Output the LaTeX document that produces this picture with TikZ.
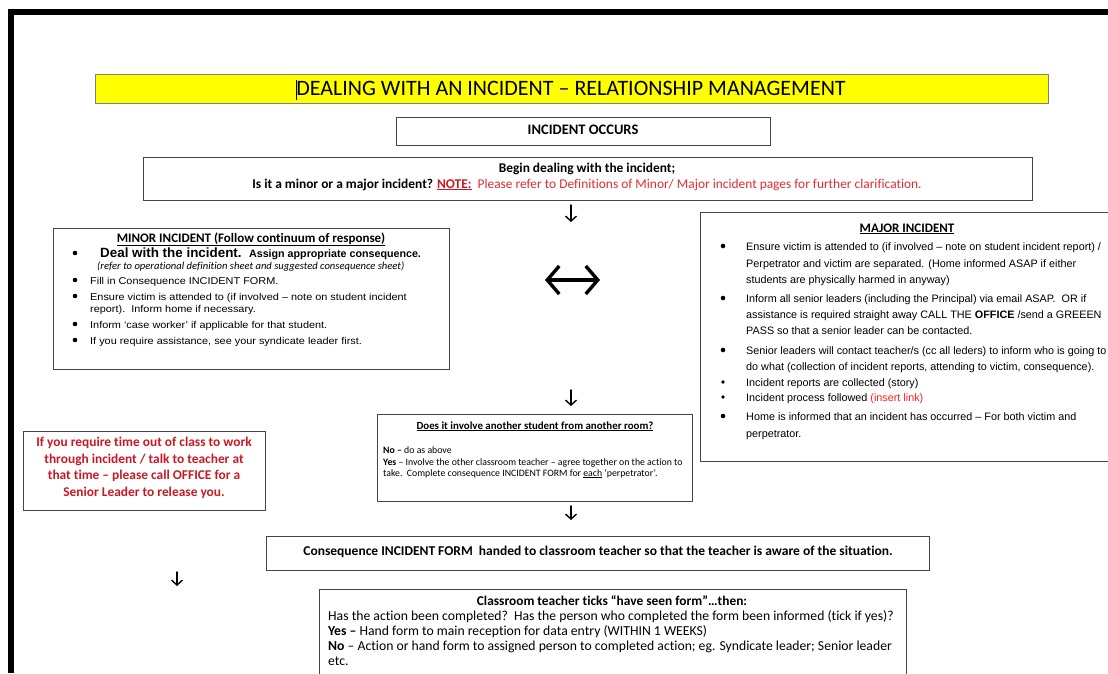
\documentclass[tikz,border=0pt]{standalone}
\usepackage{fontspec}
\setmainfont{Carlito}[Ligatures=NoCommon]
\newfontfamily\arial[FakeStretch=1.1]{Liberation Sans}
\newfontfamily\arialn{Liberation Sans}
\usetikzlibrary{arrows.meta}
\definecolor{boxgray}{RGB}{70,70,70}
\definecolor{ttl}{RGB}{255,255,0}
\definecolor{dred}{RGB}{200,25,35}
\definecolor{lred}{RGB}{220,45,50}
\definecolor{bred}{RGB}{255,30,30}
\tikzset{
  box/.style={draw=boxgray, line width=0.9pt, inner sep=0pt, anchor=north west},
  ln/.style={inner sep=0pt, anchor=base west},
  lnc/.style={inner sep=0pt, anchor=base},
  bul/.style={circle, fill=black, inner sep=0pt, minimum size=4.6pt},
  sbul/.style={circle, fill=black, inner sep=0pt, minimum size=3.6pt},
  darr/.style={-{Straight Barb[length=5pt,width=11pt,line width=1.4pt]}, line width=1.4pt, line cap=round},
}
\newcommand{\fs}[1]{\fontsize{#1}{#1}\selectfont}
\begin{document}
\begin{tikzpicture}[x=1pt,y=-1pt]
\useasboundingbox (0,0) rectangle (1108,673);
\begin{scope}
\clip (0,0) rectangle (1108,673);
% frame
\fill[black] (8,9) rectangle (1108,15);
\fill[black] (8,9) rectangle (14,673);

% title
\node[box, draw=gray, fill=ttl, minimum width=953pt, minimum height=29pt] (title) at (95,74) {};
\node[lnc, font=\fs{22}] (titletxt) at (571,95.5) {DEALING WITH AN INCIDENT – RELATIONSHIP MANAGEMENT};
\draw[black, line width=0.8pt] (titletxt.base west) ++(0,4) -- ++(0,-20);

% incident occurs
\node[box, minimum width=374pt, minimum height=28pt] (occ) at (396,117) {};
\node[lnc, font=\bfseries\fs{14.5}] (occtxt) at (583,134) {INCIDENT OCCURS};

% begin
\node[box, minimum width=889pt, minimum height=43pt] (begin) at (143,157) {};
\node[lnc, font=\bfseries\fs{13.4}] (b1) at (587,172) {Begin dealing with the incident;};
\node[lnc, font=\fs{13.4}] (b2) at (587,188) {\textbf{Is it a minor or a major incident?} \textcolor{dred}{\textbf{\underline{NOTE:}}\ \ }\textcolor{lred}{Please refer to Definitions of Minor/ Major incident pages for further clarification.}};

% arrows
\coordinate (a1s) at (571,205); \coordinate (a1e) at (571,222);
\draw[darr] (a1s) -- (a1e);
\coordinate (dl) at (545,280); \coordinate (dr) at (600,280);
\draw[line width=3.4pt, line cap=round, {Straight Barb[length=12pt,width=28pt,line width=3.4pt]}-{Straight Barb[length=12pt,width=28pt,line width=3.4pt]}] (dl) -- (dr);
\coordinate (a2s) at (571,390); \coordinate (a2e) at (571,406);
\draw[darr] (a2s) -- (a2e);
\coordinate (a3s) at (571,506); \coordinate (a3e) at (571,520);
\draw[darr] (a3s) -- (a3e);
\coordinate (a4s) at (177,572); \coordinate (a4e) at (177,586);
\draw[darr] (a4s) -- (a4e);

% minor
\node[box, minimum width=396pt, minimum height=141pt] (minor) at (53,228) {};
\node[lnc, font=\bfseries\fs{13}] (mh) at (251,242) {\underline{MINOR INCIDENT (Follow continuum of response)}};
\node[bul] (mb1) at (75,253) {};
\node[ln] (m1) at (100,257) {\arialn\bfseries\fs{13.4}Deal with the incident.\ \ \fs{10.7}Assign appropriate consequence.};
\node[ln, font=\itshape\fs{10.6}] (m1b) at (97,269) {(refer to operational definition sheet and suggested consequence sheet)};
\node[bul] (mb2) at (75,280) {};
\node[ln, font=\arial\fs{9.9}] (m2) at (90,284) {Fill in Consequence INCIDENT FORM.};
\node[bul] (mb3) at (75,296) {};
\node[ln, font=\arial\fs{9.9}] (m3) at (90,300) {Ensure victim is attended to (if involved – note on student incident};
\node[ln, font=\arial\fs{9.9}] (m3b) at (90,312) {report).\ \ Inform home if necessary.};
\node[bul] (mb4) at (75,324) {};
\node[ln, font=\arial\fs{9.9}] (m4) at (90,328) {Inform ‘case worker’ if applicable for that student.};
\node[bul] (mb5) at (75,340) {};
\node[ln, font=\arial\fs{9.9}] (m5) at (90,344) {If you require assistance, see your syndicate leader first.};

% major
\node[box, minimum width=420pt, minimum height=249pt] (major) at (700,212) {};
\node[lnc, font=\bfseries\fs{13}] (jh) at (907,232) {\underline{MAJOR INCIDENT}};
\begin{scope}[every node/.append style={font=\arialn\fs{10.8}}]
\node[bul] (jb1) at (723,246) {};
\node[ln] (j1) at (746,250) {Ensure victim is attended to (if involved – note on student incident report) /};
\node[ln] (j1b) at (746,267) {Perpetrator and victim are separated. (Home informed ASAP if either};
\node[ln] (j1c) at (746,283) {students are physically harmed in anyway)};
\node[bul] (jb2) at (723,298) {};
\node[ln] (j2) at (746,302) {Inform all senior leaders (including the Principal) via email ASAP.\ \ OR if};
\node[ln] (j2b) at (746,318) {assistance is required straight away CALL THE \textbf{OFFICE} /send a GREEEN};
\node[ln] (j2c) at (746,334) {PASS so that a senior leader can be contacted.};
\node[bul] (jb3) at (723,350) {};
\node[ln] (j3) at (746,354) {Senior leaders will contact teacher/s (cc all leders) to inform who is going to};
\node[ln] (j3b) at (746,370) {do what (collection of incident reports, attending to victim, consequence).};
\node[sbul] (jb4) at (723,382) {};
\node[ln] (j4) at (746,386) {Incident reports are collected (story)};
\node[sbul] (jb5) at (723,397) {};
\node[ln] (j5) at (746,401) {Incident process followed \textcolor{bred}{(insert link)}};
\node[bul] (jb6) at (723,416) {};
\node[ln] (j6) at (746,420) {Home is informed that an incident has occurred – For both victim and};
\node[ln] (j6b) at (746,437) {perpetrator.};
\end{scope}

% does it involve
\node[box, minimum width=315pt, minimum height=87pt] (inv) at (377,414) {};
\node[lnc, font=\bfseries\fs{10.9}] (ih) at (535,429) {\underline{Does it involve another student from another room?}};
\node[ln, font=\fs{9.8}] (i1) at (383,453) {\textbf{No –} do as above};
\node[ln, font=\fs{9.8}] (i2) at (383,465) {\textbf{Yes} – Involve the other classroom teacher – agree together on the action to};
\node[ln, font=\fs{9.8}] (i3) at (383,476) {take.\ \ Complete consequence INCIDENT FORM for \underline{each} ‘perpetrator’.};

% red box
\node[box, minimum width=242pt, minimum height=79pt] (rbox) at (23,431) {};
\begin{scope}[every node/.append style={font=\bfseries\fs{13.4}, text=dred}]
\node[lnc] (r1) at (144,446) {If you require time out of class to work};
\node[lnc] (r2) at (144,463) {through incident / talk to teacher at};
\node[lnc] (r3) at (144,479) {that time – please call OFFICE for a};
\node[lnc] (r4) at (144,496) {Senior Leader to release you.};
\end{scope}

% consequence
\node[box, minimum width=663pt, minimum height=34pt] (cons) at (266,536) {};
\node[lnc, font=\bfseries\fs{13.5}] (ctxt) at (598,555) {Consequence INCIDENT FORM\ \ handed to classroom teacher so that the teacher is aware of the situation.};

% teacher
\node[box, minimum width=587pt, minimum height=100pt] (teach) at (319,589) {};
\node[lnc, font=\bfseries\fs{13.4}] (th) at (612,605) {Classroom teacher ticks “have seen form”…then:};
\node[ln, font=\fs{13.7}] (t1) at (328,620) {Has the action been completed?\ \ Has the person who completed the form been informed (tick if yes)?};
\node[ln, font=\fs{13.7}] (t2) at (328,635) {\textbf{Yes –} Hand form to main reception for data entry (WITHIN 1 WEEKS)};
\node[ln, font=\fs{13.7}] (t3) at (328,650) {\textbf{No} – Action or hand form to assigned person to completed action; eg. Syndicate leader; Senior leader};
\node[ln, font=\fs{13.7}] (t4) at (328,665) {etc.};
\end{scope}
\end{tikzpicture}
\end{document}
